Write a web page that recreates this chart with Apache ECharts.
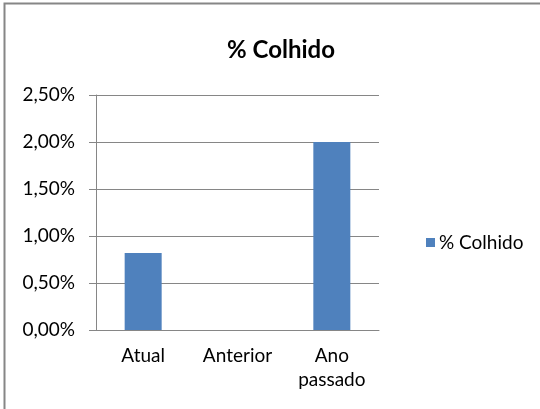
<!DOCTYPE html>
<html lang="pt">
  <head>
    <meta charset="UTF-8" />
    <title>% Colhido</title>
    <style>
      body {
        margin: 0;
      }
      #chart {
        width: 540px;
        height: 409px;
      }
    </style>
    <script src="https://cdn.jsdelivr.net/npm/echarts@6/dist/echarts.min.js"></script>
  </head>
  <body>
    <div id="chart"></div>
    <script>
      // dados
      const categorias = ["Atual", "Anterior", "Ano\npassado"];
      const colhido = [0.82, 0, 2.0];
      const nomeSerie = "% Colhido";

      const fonte = "Lato, 'Open Sans', sans-serif";
      const cinza = "#868686";

      var myChart = echarts.init(document.getElementById("chart"));
      myChart.setOption({
        animation: false,
        textStyle: { fontFamily: fonte },
        // moldura do gráfico (só esquerda e topo aparecem no recorte)
        graphic: [
          {
            type: "polyline",
            shape: { points: [[4.5, 409], [4.5, 3.5], [540, 3.5]] },
            style: { fill: "none", stroke: cinza, lineWidth: 2 },
          },
        ],
        title: {
          text: nomeSerie,
          left: 276,
          top: 33,
          textAlign: "center",
          textStyle: {
            fontFamily: fonte,
            fontSize: 24,
            fontWeight: "bold",
            color: "#000",
          },
        },
        legend: {
          left: 426,
          top: 233,
          padding: 0,
          itemWidth: 9,
          itemHeight: 9,
          itemGap: 5,
          itemStyle: { borderWidth: 0 },
          icon: "rect",
          textStyle: { fontFamily: fonte, fontSize: 19, color: "#000", padding: [0, 0, 0, -1] },
          data: [nomeSerie],
        },
        grid: {
          left: 96,
          right: 161,
          top: 95,
          bottom: 79,
        },
        xAxis: {
          type: "category",
          data: categorias,
          axisLine: { lineStyle: { color: cinza } },
          axisTick: { length: 6, lineStyle: { color: cinza } },
          axisLabel: {
            color: "#000",
            fontSize: 19,
            margin: 14,
            lineHeight: 24,
            fontFamily: fonte,
          },
        },
        yAxis: {
          type: "value",
          min: 0,
          max: 2.5,
          interval: 0.5,
          axisLine: { show: true, lineStyle: { color: cinza } },
          axisTick: { show: true, length: 7, lineStyle: { color: cinza } },
          splitLine: { lineStyle: { color: cinza } },
          axisLabel: {
            color: "#000",
            fontSize: 19,
            margin: 21,
            fontFamily: fonte,
            formatter: (v) => v.toFixed(2).replace(".", ",") + "%",
          },
        },
        series: [
          {
            name: nomeSerie,
            type: "bar",
            data: colhido,
            barWidth: 37,
            itemStyle: { color: "#4F81BD" },
          },
        ],
      });
    </script>
  </body>
</html>
